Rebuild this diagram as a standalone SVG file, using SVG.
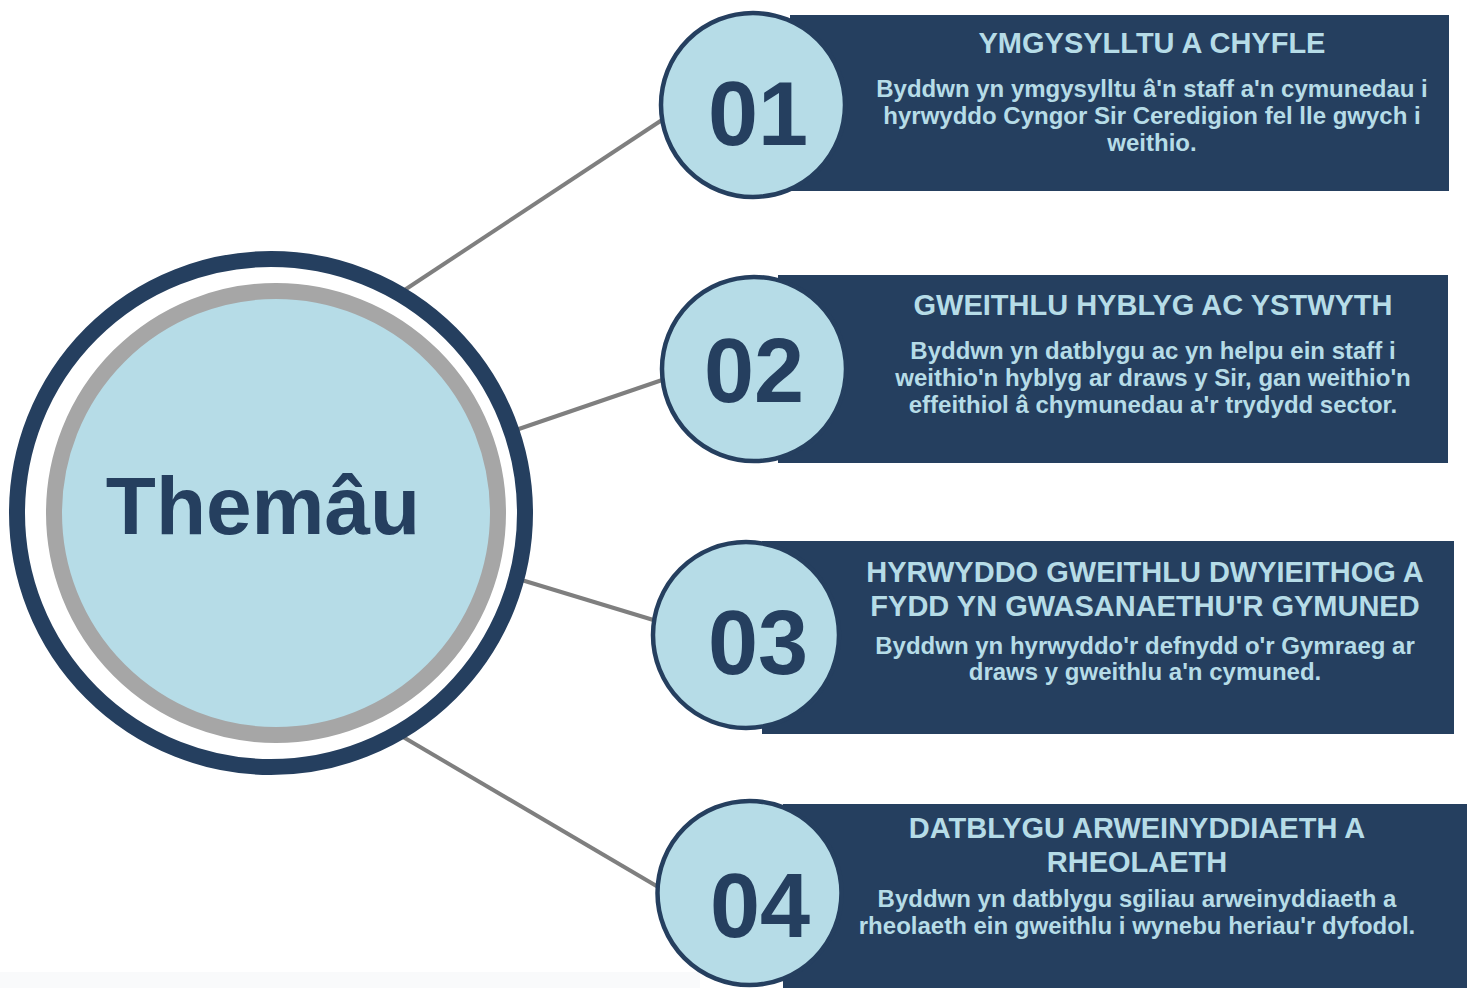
<svg xmlns="http://www.w3.org/2000/svg" width="1467" height="988" viewBox="0 0 1467 988">
<style>
.bg{fill:#ffffff}
.conn{stroke:#7f7f7f;stroke-width:4;fill:none}
.box{fill:#253f5f}
.num{fill:#b6dce7;stroke:#253f5f;stroke-width:4.5}
.numtxt{font-family:"Liberation Sans",Arial,sans-serif;font-weight:bold;font-size:90px;fill:#253f5f;text-anchor:middle}
.title{font-family:"Liberation Sans",Arial,sans-serif;font-weight:bold;font-size:29px;fill:#b6dce7;text-anchor:middle}
.body{font-family:"Liberation Sans",Arial,sans-serif;font-weight:bold;font-size:24px;fill:#b6dce7;text-anchor:middle}
.hub{font-family:"Liberation Sans",Arial,sans-serif;font-weight:bold;font-size:82px;fill:#253f5f;text-anchor:middle}
</style>
<rect class="bg" x="0" y="0" width="1467" height="988"/>
<rect x="0" y="972" width="700" height="16" fill="#f9fafb"/>
<g id="connectors">
<line class="conn" x1="400" y1="293" x2="668" y2="116"/>
<line class="conn" x1="510" y1="432" x2="668" y2="378"/>
<line class="conn" x1="515" y1="578" x2="660" y2="622"/>
<line class="conn" x1="398" y1="734" x2="665" y2="891"/>
</g>
<g id="hub">
<circle cx="271" cy="513" r="254" fill="#ffffff" stroke="#253f5f" stroke-width="16"/>
<circle cx="276" cy="513" r="222" fill="#b6dce7" stroke="#a6a6a6" stroke-width="16"/>
<text class="hub" x="263" y="534">Themâu</text>
</g>
<g id="theme01">
<rect class="box" x="790" y="15" width="659" height="176"/>
<circle class="num" cx="753" cy="105" r="92"/>
<text class="numtxt" x="758" y="145">01</text>
<text class="title" x="1152" y="53">YMGYSYLLTU A CHYFLE</text>
<text class="body" x="1152" y="97">Byddwn yn ymgysylltu â'n staff a'n cymunedau i</text>
<text class="body" x="1152" y="124">hyrwyddo Cyngor Sir Ceredigion fel lle gwych i</text>
<text class="body" x="1152" y="151">weithio.</text>
</g>
<g id="theme02">
<rect class="box" x="778" y="275" width="670" height="188"/>
<circle class="num" cx="754" cy="369" r="92"/>
<text class="numtxt" x="754" y="402">02</text>
<text class="title" x="1153" y="315">GWEITHLU HYBLYG AC YSTWYTH</text>
<text class="body" x="1153" y="359">Byddwn yn datblygu ac yn helpu ein staff i</text>
<text class="body" x="1153" y="386">weithio'n hyblyg ar draws y Sir, gan weithio'n</text>
<text class="body" x="1153" y="413">effeithiol â chymunedau a'r trydydd sector.</text>
</g>
<g id="theme03">
<rect class="box" x="762" y="541" width="692" height="193"/>
<circle class="num" cx="746" cy="635" r="93"/>
<text class="numtxt" x="758" y="674">03</text>
<text class="title" x="1145" y="582">HYRWYDDO GWEITHLU DWYIEITHOG A</text>
<text class="title" x="1145" y="616">FYDD YN GWASANAETHU'R GYMUNED</text>
<text class="body" x="1145" y="654">Byddwn yn hyrwyddo'r defnydd o'r Gymraeg ar</text>
<text class="body" x="1145" y="680">draws y gweithlu a'n cymuned.</text>
</g>
<g id="theme04">
<rect class="box" x="783" y="804" width="684" height="184"/>
<circle class="num" cx="749.5" cy="893" r="92"/>
<text class="numtxt" x="760" y="937">04</text>
<text class="title" x="1137" y="838">DATBLYGU ARWEINYDDIAETH A</text>
<text class="title" x="1137" y="872">RHEOLAETH</text>
<text class="body" x="1137" y="907">Byddwn yn datblygu sgiliau arweinyddiaeth a</text>
<text class="body" x="1137" y="934">rheolaeth ein gweithlu i wynebu heriau'r dyfodol.</text>
</g>
</svg>
